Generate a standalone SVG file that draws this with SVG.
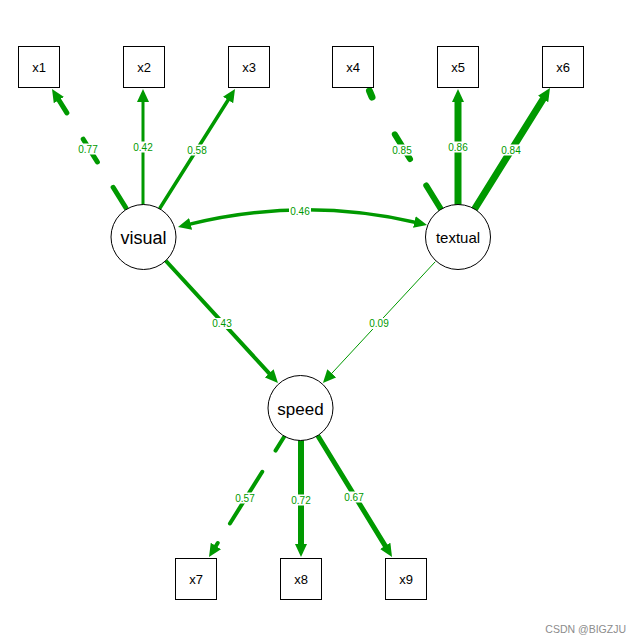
<svg xmlns="http://www.w3.org/2000/svg" width="637" height="643" viewBox="0 0 637 643">
<defs>
<marker id="ah" markerUnits="userSpaceOnUse" viewBox="-3 -6 13 12" markerWidth="13" markerHeight="12" refX="0" refY="0" orient="auto-start-reverse">
<path d="M-3,-6 L10,0 L-3,6 z" fill="#009900"/>
</marker>
</defs>
<style>
.e{fill:none;stroke:#009900;stroke-linecap:round}
.a{marker-end:url(#ah)}
.lb rect{fill:#ffffff}
.lb text{font-family:"Liberation Sans",Arial,sans-serif;font-size:10px;fill:#009900;text-anchor:middle}
.box rect{fill:#ffffff;stroke:#000000;stroke-width:1}
.box text{font-family:"Liberation Sans",Arial,sans-serif;font-size:13px;fill:#000000;text-anchor:middle}
.lat circle{fill:#ffffff;stroke:#000000;stroke-width:1}
.lat text{font-family:"Liberation Sans",Arial,sans-serif;fill:#000000;text-anchor:middle}
</style>
<rect width="637" height="643" fill="#ffffff"/>
<g id="connectors">
<path class="e a" d="M126,208 L57.3,97.5" stroke-width="5" stroke-dasharray="24.4 29.8 26.8 31 60"/>
<path class="e a" d="M143,204 L143,99" stroke-width="3" stroke-linecap="butt"/>
<path class="e a" d="M160,208 L229.7,97.5" stroke-width="3.5" stroke-linecap="butt"/>
<path class="e" d="M442,211 L378,107" stroke-width="6" stroke-dasharray="30 31 29 60"/>
<path class="e" d="M369.5,91 L372,97" stroke-width="7" stroke-linecap="butt"/>
<path class="e a" d="M458,204 L458,99" stroke-width="7" stroke-linecap="butt"/>
<path class="e a" d="M474,210 L544.7,96.5" stroke-width="7" stroke-linecap="butt"/>
<path class="e" d="M187.7,224.6 Q302,196 417.3,222.7" stroke-width="3.5" stroke-linecap="butt" marker-start="url(#ah)" marker-end="url(#ah)"/>
<path class="e a" d="M166,261 L271.2,375.6" stroke-width="4" stroke-linecap="butt"/>
<path class="e a" d="M435,262 L329.7,375.6" stroke-width="1" stroke-linecap="butt"/>
<path class="e a" d="M284,437 L214.3,548.5" stroke-width="4" stroke-dasharray="16 25 61 23 30"/>
<path class="e a" d="M301,441 L301,547" stroke-width="6" stroke-linecap="butt"/>
<path class="e a" d="M318,436 L386.8,548.4" stroke-width="5" stroke-linecap="butt"/>
<g class="lb">
<rect x="77" y="143.5" width="22" height="11"/><text x="88" y="152.5">0.77</text>
<rect x="132" y="141.5" width="22" height="11"/><text x="143" y="150.5">0.42</text>
<rect x="186" y="144.5" width="22" height="11"/><text x="197" y="153.5">0.58</text>
<rect x="391" y="144.5" width="22" height="11"/><text x="402" y="153.5">0.85</text>
<rect x="447" y="141.5" width="22" height="11"/><text x="458" y="150.5">0.86</text>
<rect x="500" y="144.5" width="22" height="11"/><text x="511" y="153.5">0.84</text>
<rect x="289" y="205.5" width="22" height="11"/><text x="300" y="214.5">0.46</text>
<rect x="211" y="318" width="22" height="11"/><text x="222" y="327">0.43</text>
<rect x="368" y="318" width="22" height="11"/><text x="379" y="327">0.09</text>
<rect x="234" y="492.5" width="22" height="11"/><text x="245" y="501.5">0.57</text>
<rect x="290" y="494.5" width="22" height="11"/><text x="301" y="503.5">0.72</text>
<rect x="343" y="491.5" width="22" height="11"/><text x="354" y="500.5">0.67</text>
</g>
</g>
<g id="x1" class="box"><rect x="18.5" y="46.5" width="41" height="41"/><text x="39" y="71.5">x1</text></g>
<g id="x2" class="box"><rect x="123.5" y="46.5" width="41" height="41"/><text x="144" y="71.5">x2</text></g>
<g id="x3" class="box"><rect x="228.5" y="46.5" width="41" height="41"/><text x="249" y="71.5">x3</text></g>
<g id="x4" class="box"><rect x="332.5" y="46.5" width="41" height="41"/><text x="353" y="71.5">x4</text></g>
<g id="x5" class="box"><rect x="437.5" y="46.5" width="41" height="41"/><text x="458" y="71.5">x5</text></g>
<g id="x6" class="box"><rect x="542.5" y="46.5" width="41" height="41"/><text x="563" y="71.5">x6</text></g>
<g id="x7" class="box"><rect x="175.5" y="558.5" width="41" height="41"/><text x="196" y="583.5">x7</text></g>
<g id="x8" class="box"><rect x="280.5" y="558.5" width="41" height="41"/><text x="301" y="583.5">x8</text></g>
<g id="x9" class="box"><rect x="385.5" y="558.5" width="41" height="41"/><text x="406" y="583.5">x9</text></g>
<g id="visual" class="lat"><circle cx="143.5" cy="237" r="32.5"/><text x="143.5" y="244" font-size="18">visual</text></g>
<g id="textual" class="lat"><circle cx="458" cy="237" r="32.5"/><text x="458" y="243" font-size="15">textual</text></g>
<g id="speed" class="lat"><circle cx="300.5" cy="408" r="32.5"/><text x="300.5" y="414.5" font-size="17">speed</text></g>
<text x="626" y="633" font-family="'Liberation Sans',Arial,sans-serif" font-size="10.5" fill="#8c8c8c" text-anchor="end">CSDN @BIGZJU</text>
</svg>
